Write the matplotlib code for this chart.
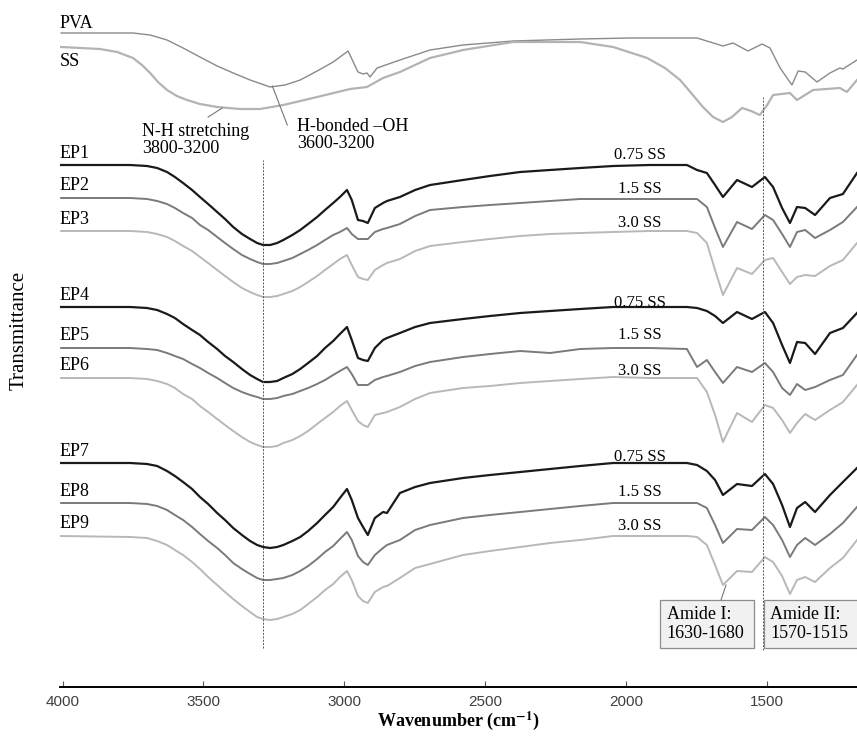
import matplotlib.pyplot as plt
from matplotlib.patches import Rectangle

# ==========================================
# 1. SPECTRA (transmittance, arbitrary offset units)
# ==========================================
pva_wn = [4005, 3750, 3689, 3629, 3572, 3512, 3451, 3394, 3334, 3263, 3210, 3156,
          3096, 3039, 2986, 2951, 2933, 2919, 2908, 2883, 2802, 2695, 2578, 2400,
          2162, 1985, 1747, 1701, 1655, 1619, 1566, 1516, 1488, 1452, 1410, 1388,
          1363, 1321, 1275, 1240, 1229, 1179]
pva_t = [654, 654, 652, 647, 639, 630, 621, 614, 607, 600, 602, 607, 616, 625, 636,
         615, 613, 614, 610, 619, 627, 637, 642, 646, 648, 649, 649, 645, 641, 644,
         636, 643, 639, 619, 602, 616, 615, 605, 614, 619, 618, 627]

ss_wn = [4005, 3867, 3806, 3750, 3718, 3689, 3661, 3629, 3594, 3558, 3512, 3451,
         3370, 3299, 3216, 3096, 2979, 2919, 2862, 2802, 2695, 2578, 2400, 2162,
         2045, 1924, 1861, 1807, 1765, 1726, 1690, 1655, 1623, 1587, 1555, 1524,
         1498, 1477, 1417, 1392, 1335, 1240, 1215, 1179]
ss_t = [640, 638, 635, 629, 622, 614, 605, 597, 591, 587, 583, 580, 578, 578, 582,
        590, 598, 600, 609, 615, 629, 637, 645, 645, 640, 629, 619, 607, 593, 580,
        570, 565, 570, 579, 576, 572, 582, 592, 594, 587, 597, 599, 595, 607]

# shared wavenumber grid for the EP films
ep_wn = [4005, 3760, 3700, 3664, 3629, 3601, 3572, 3540, 3512, 3483, 3451, 3423,
         3394, 3363, 3334, 3309, 3288, 3263, 3238, 3216, 3184, 3156, 3128, 3096,
         3068, 3039, 3015, 2990,
         2973, 2951, 2933, 2916, 2891, 2862, 2848,
         2802, 2748, 2695, 2578, 2482, 2375, 2269, 2162, 2045, 1914, 1783,
         1747, 1712, 1683, 1655, 1605, 1552, 1506, 1477, 1445, 1417, 1392, 1363,
         1328, 1275, 1229, 1179]

ep1 = [522, 522, 521, 519, 515, 510, 504, 497, 490, 483, 475, 468, 460, 453, 448,
       444, 442, 442, 444, 447, 452, 457, 463, 470, 477, 484, 490, 497,
       487, 467, 466, 464, 479, 484, 486,
       490, 497, 502, 507, 511, 515, 517, 519, 521, 522, 522,
       517, 514, 502, 490, 507, 500, 510, 500, 479, 464, 480, 479, 472, 489, 493, 514]
ep2 = [489, 489, 488, 486, 483, 479, 474, 469, 462, 457, 450, 444, 438, 432, 428,
       425, 423, 423, 424, 426, 429, 433, 437, 442, 447, 452, 455, 459,
       453, 448, 448, 448, 455, 458, 459,
       463, 471, 477, 480, 482, 484, 486, 488, 488, 488, 488,
       488, 480, 459, 440, 465, 458, 472, 467, 453, 440, 455, 457, 449, 457, 465, 480]
ep3 = [456, 456, 455, 453, 450, 446, 441, 436, 430, 424, 417, 411, 405, 399, 395,
       392, 390, 390, 391, 393, 396, 400, 405, 411, 417, 423, 428, 432,
       422, 410, 408, 407, 417, 422, 424,
       428, 436, 441, 445, 448, 451, 453, 454, 455, 456, 456,
       454, 444, 417, 392, 419, 413, 427, 429, 415, 403, 410, 412, 411, 421, 427, 444]
ep4 = [380, 380, 379, 377, 373, 369, 363, 357, 352, 345, 338, 331, 325, 318, 312,
       308, 305, 305, 306, 309, 313, 318, 324, 331, 339, 346, 353, 360,
       347, 329, 327, 326, 339, 347, 349,
       354, 360, 364, 368, 371, 374, 376, 378, 380, 380, 380,
       379, 376, 371, 364, 375, 368, 375, 364, 342, 324, 345, 344, 333, 354, 359, 374]
ep5 = [339, 339, 338, 337, 334, 331, 328, 323, 319, 314, 309, 304, 299, 295, 292,
       290, 288, 288, 289, 291, 293, 296, 299, 303, 307, 312, 316, 320,
       313, 302, 302, 302, 307, 310, 311,
       315, 321, 325, 330, 333, 336, 334, 338, 339, 339, 338,
       320, 327, 315, 304, 320, 315, 324, 315, 299, 292, 303, 297, 300, 307, 312, 332]
ep6 = [309, 309, 308, 306, 303, 299, 293, 288, 281, 275, 268, 262, 256, 250, 245,
       242, 240, 240, 241, 244, 247, 251, 256, 263, 269, 275, 281, 286,
       277, 266, 262, 260, 272, 274, 275,
       280, 288, 294, 299, 301, 304, 306, 308, 310, 309, 309,
       309, 295, 272, 245, 274, 265, 282, 279, 267, 254, 264, 273, 267, 277, 285, 302]
ep7 = [224, 224, 223, 221, 216, 211, 205, 198, 190, 183, 174, 167, 159, 152, 146,
       142, 140, 139, 140, 142, 146, 150, 156, 164, 172, 180, 189, 198,
       187, 169, 160, 152, 169, 175, 174,
       194, 200, 204, 209, 212, 215, 218, 221, 224, 224, 224,
       222, 216, 207, 192, 203, 201, 213, 203, 182, 160, 179, 185, 175, 192, 205, 219]
ep8 = [184, 184, 183, 181, 177, 172, 167, 160, 153, 146, 139, 132, 124, 118, 113,
       109, 107, 107, 108, 109, 112, 116, 121, 128, 135, 141, 148, 155,
       147, 131, 125, 122, 132, 139, 142,
       147, 157, 162, 169, 172, 175, 178, 181, 184, 184, 184,
       184, 179, 162, 144, 158, 157, 170, 162, 147, 130, 142, 149, 142, 153, 164, 180]
ep9 = [151, 150, 149, 146, 142, 137, 132, 125, 118, 110, 102, 95, 88, 81, 75,
       70, 68, 67, 68, 70, 73, 77, 83, 90, 97, 103, 110, 116,
       107, 91, 86, 84, 95, 100, 101,
       109, 119, 123, 132, 136, 140, 144, 147, 151, 151, 151,
       150, 142, 122, 102, 116, 115, 130, 125, 111, 93, 107, 110, 105, 119, 129, 147]

ep_names = ['EP1', 'EP2', 'EP3', 'EP4', 'EP5', 'EP6', 'EP7', 'EP8', 'EP9']
ep_series = [ep1, ep2, ep3, ep4, ep5, ep6, ep7, ep8, ep9]
ss_ratio = ['0.75 SS', '1.5 SS', '3.0 SS'] * 3
ratio_label_y = [532, 498, 464, 384, 352, 316, 230, 195, 161]

# ==========================================
# 2. PLOT
# ==========================================
plt.rcParams['font.family'] = ['Liberation Serif', 'DejaVu Serif']
plt.rcParams['mathtext.fontset'] = 'stix'

fig = plt.figure(figsize=(8.57, 7.38), dpi=100)
ax = fig.add_axes([60 / 857, 51 / 738, 797 / 857, 687 / 738])
ax.set_xlim(4009, 1179)
ax.set_ylim(0, 687)

shades = ['#1a1a1a', '#7a7a7a', '#b8b8b8']
widths = [1.6, 1.4, 1.4]
serif = 13

ax.plot(pva_wn, pva_t, color='#8a8a8a', lw=1.0)
ax.plot(ss_wn, ss_t, color='#b3b3b3', lw=1.6)
ax.text(4009, 664, 'PVA', fontsize=serif, va='center', ha='left')
ax.text(4009, 625, 'SS', fontsize=serif, va='center', ha='left')

for i, (name, t) in enumerate(zip(ep_names, ep_series)):
    ax.plot(ep_wn, t, color=shades[i % 3], lw=widths[i % 3])
    ax.text(4009, t[0] + 12, name, fontsize=serif, va='center', ha='left')
    ax.text(1950, ratio_label_y[i], ss_ratio[i], fontsize=12, va='center', ha='center')

# band markers
ax.plot([3287, 3287], [39, 527], color='#555555', lw=0.7, ls=(0, (2, 1.5)))
ax.plot([1513, 1513], [37, 590], color='#555555', lw=0.7, ls=(0, (2, 1.5)))

# OH / NH annotations
ax.text(3717, 547, 'N-H stretching\n3800-3200', fontsize=serif, va='center',
        ha='left', linespacing=1.05)
ax.text(3166, 552, 'H-bonded \u2013OH\n3600-3200', fontsize=serif, va='center',
        ha='left', linespacing=1.05)
ax.plot([3483, 3433], [570, 579], color='#777777', lw=0.8)
ax.plot([3202, 3255], [562, 601], color='#777777', lw=0.8)

# amide boxes
ax.add_patch(Rectangle((1879, 39), 1545 - 1879, 48, facecolor='#f1f1f1',
                       edgecolor='#8c8c8c', lw=0.9, zorder=3))
ax.add_patch(Rectangle((1509, 39), 1160 - 1509, 48, facecolor='#f1f1f1',
                       edgecolor='#8c8c8c', lw=0.9, zorder=3, clip_on=False))
ax.text(1854, 63, 'Amide I:\n1630-1680', fontsize=serif, va='center', ha='left',
        linespacing=1.1, zorder=4)
ax.text(1488, 63, 'Amide II:\n1570-1515', fontsize=serif, va='center', ha='left',
        linespacing=1.1, zorder=4)
ax.plot([1662, 1644], [87, 102], color='#777777', lw=0.8)

# axes styling
for side in ['top', 'right', 'left']:
    ax.spines[side].set_visible(False)
ax.spines['bottom'].set_linewidth(1.4)
ax.set_yticks([])
ax.set_xticks([4000, 3500, 3000, 2500, 2000, 1500])
ax.tick_params(axis='x', direction='in', length=4, width=0.8, color='#555555',
               labelsize=11, labelcolor='#404040', pad=6)
for lab in ax.get_xticklabels():
    lab.set_family('Liberation Sans')

ax.set_xlabel(r'Wavenumber (cm$^{\mathbf{-1}}$)', fontsize=13, fontweight='bold',
              labelpad=0)
fig.text(19 / 857, 1 - 330 / 738, 'Transmittance', rotation=90, fontsize=15,
         va='center', ha='center')

plt.savefig('out.png', dpi=100)
